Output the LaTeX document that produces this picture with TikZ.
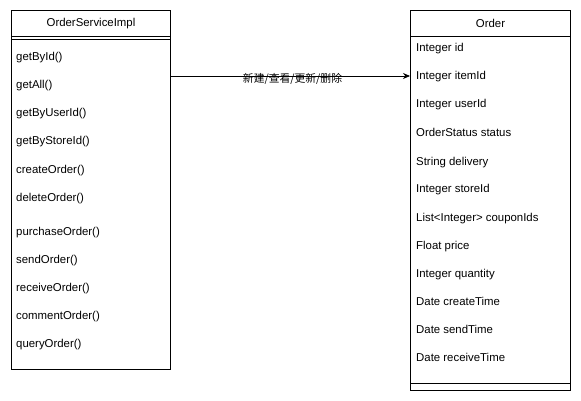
\documentclass[tikz,border=0pt]{standalone}
\usepackage{fontspec}
\setmainfont{Liberation Sans}
\newfontfamily\cjk{Noto Sans CJK SC}
\usetikzlibrary{positioning,arrows.meta}

\begin{document}
\begin{tikzpicture}[
    x=1pt, y=-1pt,
    >=Stealth,
    every node/.style={font=\fontsize{11.4}{13}\selectfont},
    classbox/.style={
        draw, line width=1pt, fill=white, anchor=north west,
        inner sep=0pt, minimum width=#1
    },
    classhead/.style={
        draw, line width=1pt, anchor=north west,
        inner sep=0pt, minimum width=#1, minimum height=26pt
    },
    member/.style={anchor=base west, inner sep=0pt},
    sep/.style={line width=1pt},
    arr/.style={-{Stealth[length=7pt, width=6pt]}, line width=0.8pt},
]
\useasboundingbox (0,0) rectangle (581,401);

% === Left: OrderServiceImpl ===
\node[classbox=159pt, minimum height=359pt] (svc) at (11,10) {};
\node[classhead=159pt] (svchead) at (11,10) {OrderServiceImpl};
\draw[sep] (svc.west |- 0,40) -- (svc.east |- 0,40);

\foreach \y/\txt [count=\i] in {61/getById(), 89/getAll(), 117/getByUserId(),
    145/getByStoreId(), 173/createOrder(), 201/deleteOrder(), 235/purchaseOrder(),
    263/sendOrder(), 291/receiveOrder(), 319/commentOrder(), 347/queryOrder()} {
    \node[member] (op\i) at (16,\y) {\txt};
}

% === Right: Order ===
\node[classbox=160pt, minimum height=380pt] (ord) at (410,10) {};
\node[classhead=160pt] (ordhead) at (410,10) {Order};
\draw[sep] (ord.west |- 0,383) -- (ord.east |- 0,383);

\foreach \y/\txt [count=\i] in {52/Integer id, 80/Integer itemId, 108/Integer userId,
    137/OrderStatus status, 165/String delivery, 193/Integer storeId,
    221/List<Integer> couponIds, 249/Float price, 277/Integer quantity,
    305/Date createTime, 333/Date sendTime, 361/Date receiveTime} {
    \node[member] (at\i) at (416,\y) {\txt};
}

% CRUD arrow
\coordinate (arrowy) at (0,76);
\draw[arr] (svc.east |- arrowy) -- (ord.west |- arrowy)
    node[midway, inner sep=0pt, xshift=2pt, yshift=-2.5pt,
         font=\fontsize{10.8}{12}\selectfont] (crud) {\cjk 新建/查看/更新/删除};

\end{tikzpicture}
\end{document}
